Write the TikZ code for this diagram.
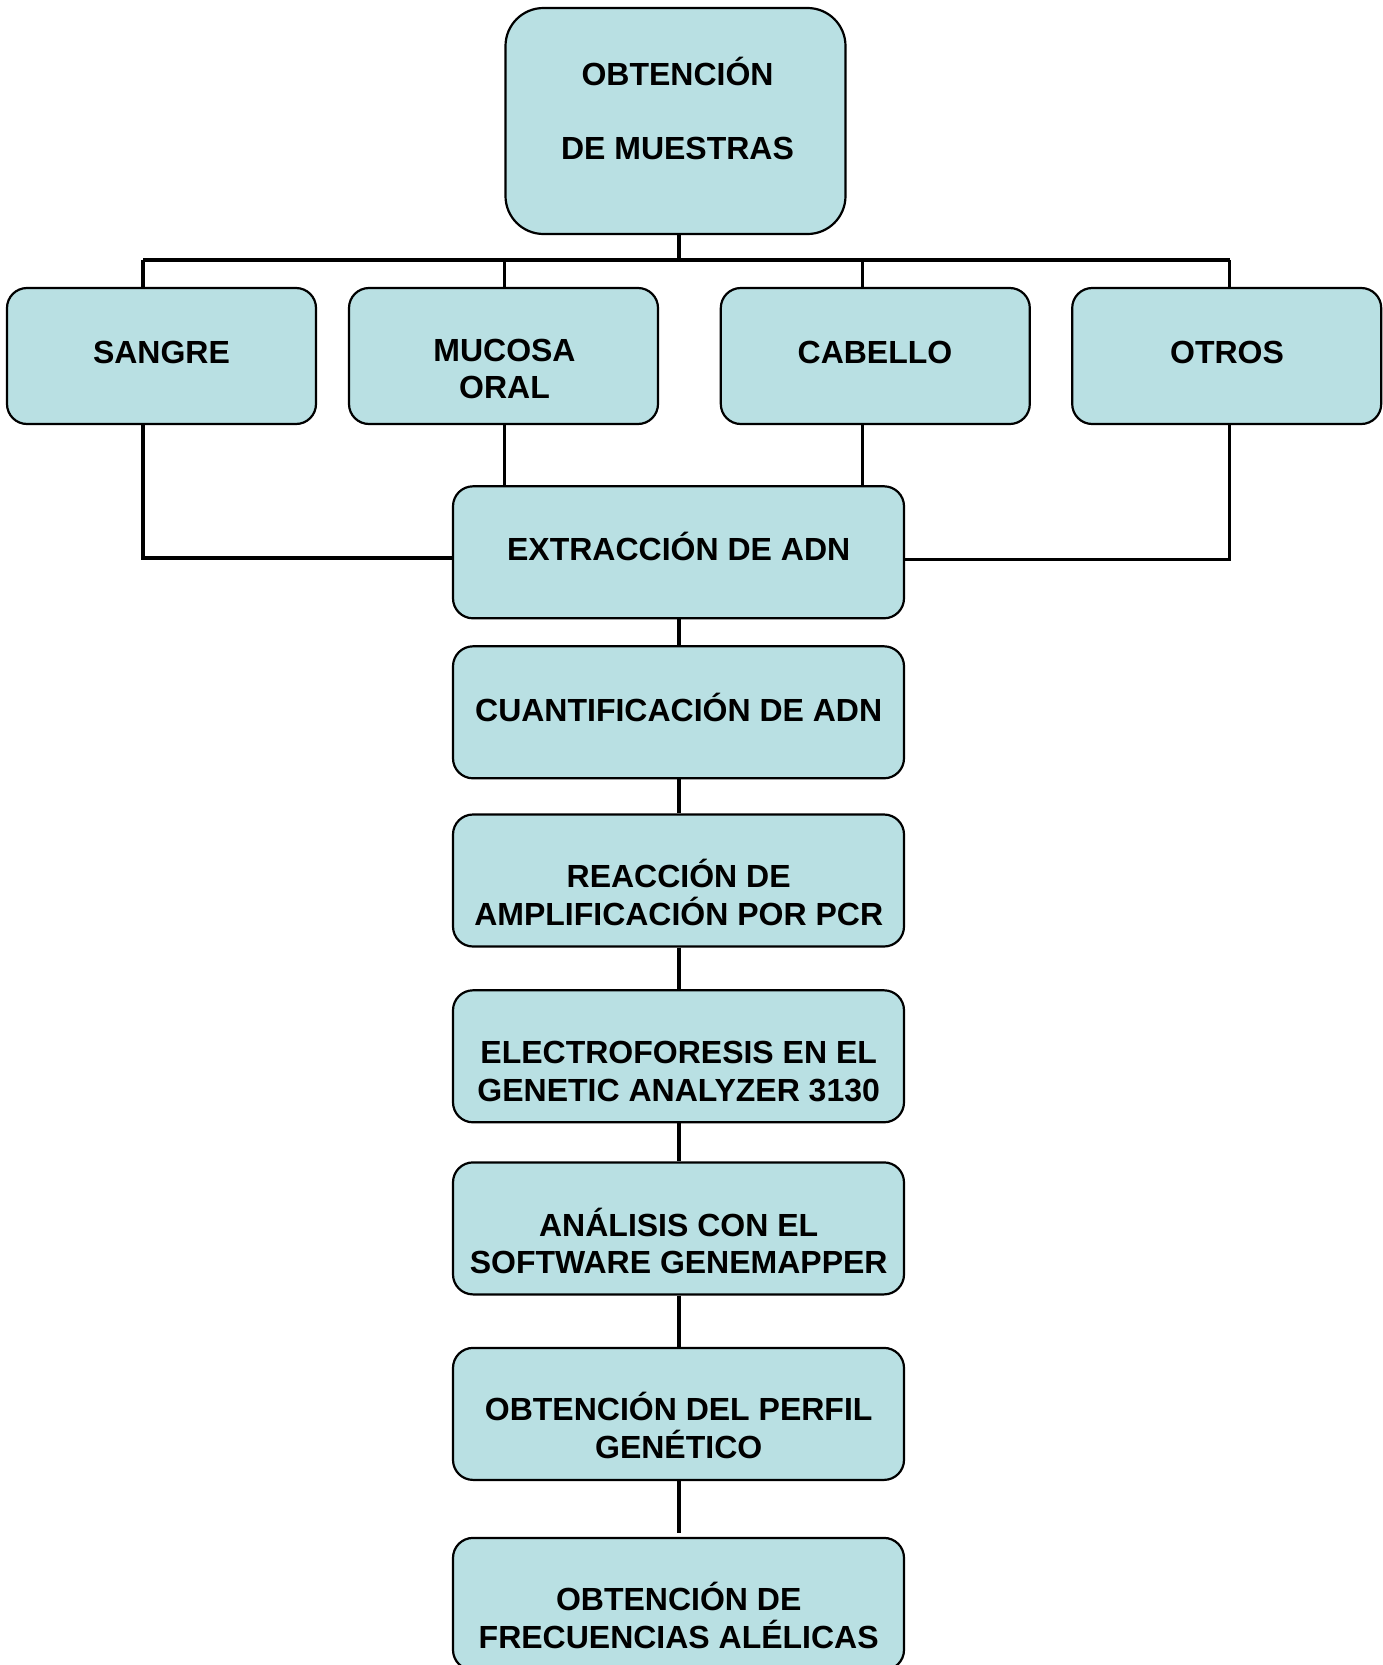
\documentclass[tikz,border=0pt]{standalone}
\usepackage{fontspec}
\setmainfont{Liberation Sans}
\definecolor{boxfill}{RGB}{185,224,227}
\tikzset{
  box/.style={draw=black, line width=2.2pt, fill=boxfill, rounded corners=20pt, inner sep=0pt},
  sbox/.style={box, minimum width=309pt, minimum height=136pt},
  cbox/.style={box, minimum width=451pt, minimum height=132pt},
  txt/.style={font=\fontsize{32}{37.5}\selectfont\bfseries, align=center, anchor=base, inner sep=0pt},
  conn/.style={line width=3.2pt}
}
\begin{document}
\begin{tikzpicture}[x=1pt,y=-1pt]
\useasboundingbox (0,0) rectangle (1383,1665);
% boxes
\node[box, rounded corners=38pt, minimum width=340pt, minimum height=226pt] (top) at (675.5,121) {};
\node[sbox] (sangre) at (161.5,356) {};
\node[sbox] (mucosa) at (503.5,356) {};
\node[sbox] (cabello) at (875.3,356) {};
\node[sbox] (otros) at (1226.7,356) {};
\node[cbox] (ext) at (678.5,552.3) {};
\node[cbox] (cuant) at (678.5,712.3) {};
\node[cbox] (reac) at (678.5,880.5) {};
\node[cbox] (elec) at (678.5,1056.3) {};
\node[cbox] (anal) at (678.5,1228.4) {};
\node[cbox] (perf) at (678.5,1413.9) {};
\node[cbox] (frec) at (678.5,1603.9) {};
% texts (base anchor = baseline of the last line)
\node[txt] (t1) at (677.5,159.5) {OBTENCIÓN\\[36.5pt]DE MUESTRAS};
\node[txt] (t2) at (161.5,363.3) {SANGRE};
\node[txt] (t3) at (504.5,398.5) {MUCOSA\\ORAL};
\node[txt] (t4) at (875,363.3) {CABELLO};
\node[txt] (t5) at (1227,363.3) {OTROS};
\node[txt] (t6) at (678.7,560) {EXTRACCIÓN DE ADN};
\node[txt] (t7) at (678.7,721) {CUANTIFICACIÓN DE ADN};
\node[txt] (t8) at (678.7,925) {REACCIÓN DE\\AMPLIFICACIÓN POR PCR};
\node[txt] (t9) at (678.7,1101) {ELECTROFORESIS EN EL\\GENETIC ANALYZER 3130};
\node[txt] (t10) at (678.7,1273.5) {ANÁLISIS CON EL\\SOFTWARE GENEMAPPER};
\node[txt] (t11) at (678.7,1458) {OBTENCIÓN DEL PERFIL\\GENÉTICO};
\node[txt] (t12) at (678.7,1648) {OBTENCIÓN DE\\FRECUENCIAS ALÉLICAS};
% bus coordinates
\coordinate (bt) at (679,260);
\coordinate (busL) at (143,260);
\coordinate (bm) at (504.5,260);
\coordinate (bc) at (862.6,260);
\coordinate (busR) at (1229.5,260);
\coordinate (lowL) at (143,558);
\coordinate (lowR) at (1229.5,559.5);
% connectors
\draw[conn] (top.south -| bt) -- (bt);
\draw[conn] (busL) -- (busR);
\draw[conn] (busL) -- (sangre.north -| busL);
\draw[conn] (bm) -- (mucosa.north -| bm);
\draw[conn] (bc) -- (cabello.north -| bc);
\draw[conn] (busR) -- (otros.north -| busR);
\draw[conn] (sangre.south -| lowL) -- (lowL) -- (ext.west |- lowL);
\draw[conn] (mucosa.south -| bm) -- (ext.north -| bm);
\draw[conn] (cabello.south -| bc) -- (ext.north -| bc);
\draw[conn] (otros.south -| lowR) -- (lowR) -- (ext.east |- lowR);
\draw[conn] (ext.south -| bt) -- (cuant.north -| bt);
\draw[conn] (cuant.south -| bt) -- (reac.north -| bt);
\draw[conn] (reac.south -| bt) -- (elec.north -| bt);
\draw[conn] (elec.south -| bt) -- (anal.north -| bt);
\draw[conn] (anal.south -| bt) -- (perf.north -| bt);
\draw[conn] (perf.south -| bt) -- ([yshift=4pt]frec.north -| bt);
\end{tikzpicture}
\end{document}
